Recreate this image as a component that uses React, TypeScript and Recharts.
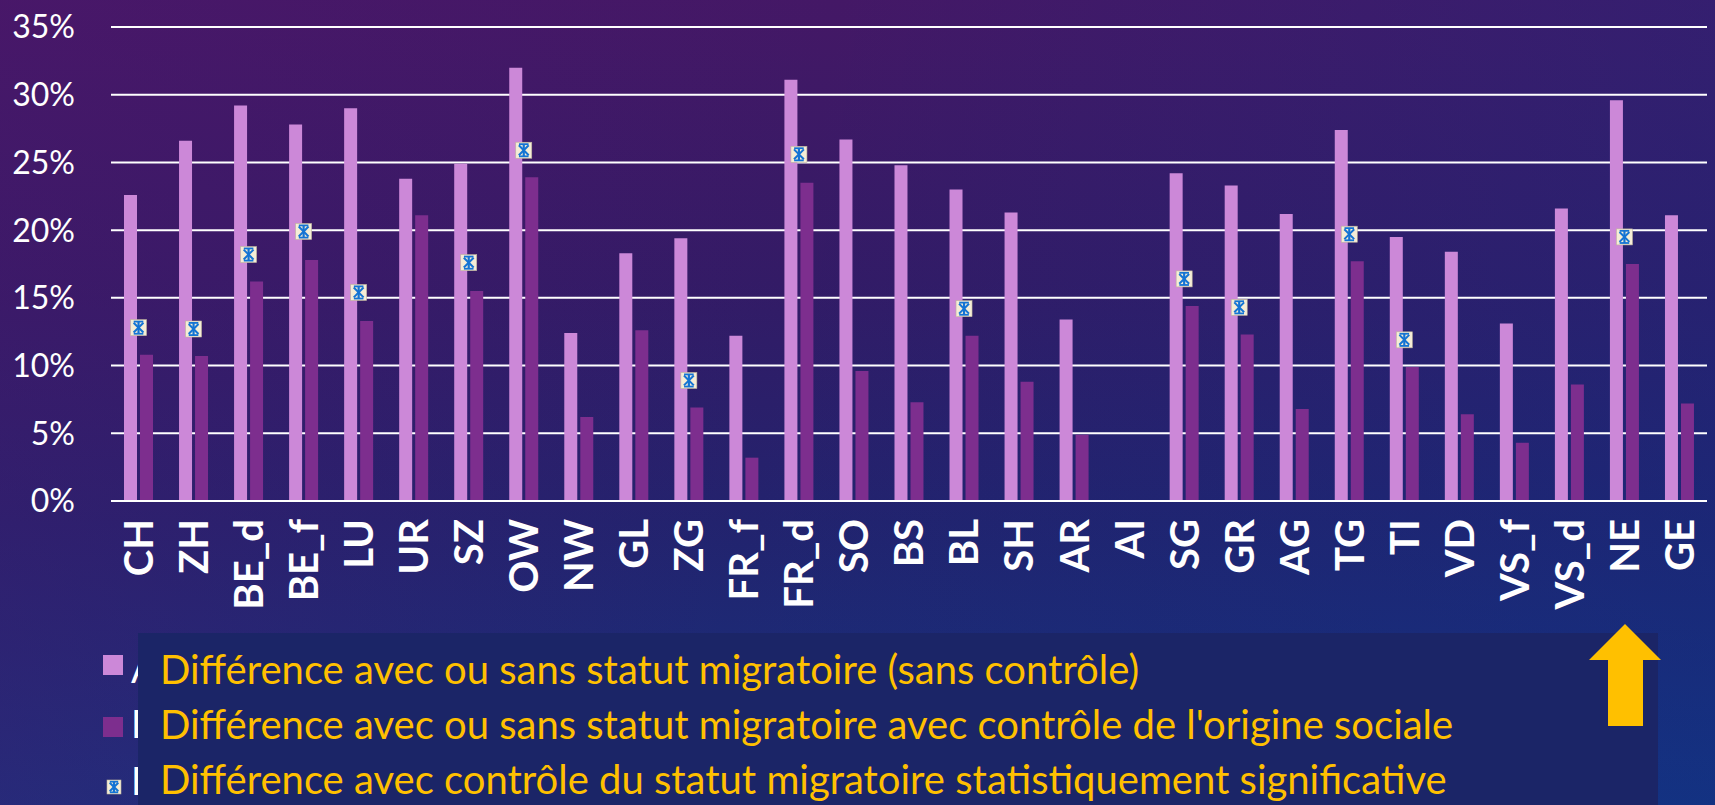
import React from 'react';
import { ComposedChart, Bar, Scatter, XAxis, YAxis, CartesianGrid } from 'recharts';

const cantons = ['CH', 'ZH', 'BE_d', 'BE_f', 'LU', 'UR', 'SZ', 'OW', 'NW', 'GL', 'ZG', 'FR_f', 'FR_d', 'SO', 'BS', 'BL', 'SH', 'AR', 'AI', 'SG', 'GR', 'AG', 'TG', 'TI', 'VD', 'VS_f', 'VS_d', 'NE', 'GE'];
const sansControle = [22.6, 26.6, 29.2, 27.8, 29.0, 23.8, 24.9, 32.0, 12.4, 18.3, 19.4, 12.2, 31.1, 26.7, 24.8, 23.0, 21.3, 13.4, null, 24.2, 23.3, 21.2, 27.4, 19.5, 18.4, 13.1, 21.6, 29.6, 21.1];
const avecControle = [10.8, 10.7, 16.2, 17.8, 13.3, 21.1, 15.5, 23.9, 6.2, 12.6, 6.9, 3.2, 23.5, 9.6, 7.3, 12.2, 8.8, 4.9, null, 14.4, 12.3, 6.8, 17.7, 9.9, 6.4, 4.3, 8.6, 17.5, 7.2];
// points only where the difference is significant
const significatif = [12.8, 12.7, 18.2, 19.9, 15.4, null, 17.6, 25.9, null, null, 8.9, null, 25.6, null, null, 14.2, null, null, null, 16.4, 14.3, null, 19.7, 11.9, null, null, null, 19.5, null];
const yTicks = [0, 5, 10, 15, 20, 25, 30, 35];
const legendLabels = [
  'Différence avec ou sans statut migratoire (sans contrôle)',
  "Différence avec ou sans statut migratoire avec contrôle de l'origine sociale",
  'Différence avec contrôle du statut migratoire statistiquement significative',
];

const data = cantons.map((c, i) => ({
  canton: c,
  sans: sansControle[i],
  avec: avecControle[i],
  sig: significatif[i],
}));

const LIGHT = '#cc88d8';
const DARK = '#7d2e8e';
const GOLD = '#ffc000';
const FONT = 'Lato, "Open Sans", sans-serif';

const StarMarker = ({ cx, cy, size = 16 }: { cx: number; cy: number; size?: number }) => {
  const h = size / 2;
  const b = '#1474d4';
  const p = size * 0.12;
  return (
    <g>
      <rect x={cx - h} y={cy - h} width={size} height={size} fill="#f5edd6" stroke="#bdb49c" strokeWidth={0.6} />
      <line x1={cx} y1={cy - h + p} x2={cx} y2={cy + h - p} stroke={b} strokeWidth={2.2} />
      <line x1={cx - h + p * 1.6} y1={cy - h + p * 1.6} x2={cx + h - p * 1.6} y2={cy + h - p * 1.6} stroke={b} strokeWidth={2} />
      <line x1={cx + h - p * 1.6} y1={cy - h + p * 1.6} x2={cx - h + p * 1.6} y2={cy + h - p * 1.6} stroke={b} strokeWidth={2} />
      <line x1={cx - h * 0.6} y1={cy - h + p} x2={cx + h * 0.6} y2={cy - h + p} stroke={b} strokeWidth={1.8} />
      <line x1={cx - h * 0.6} y1={cy + h - p} x2={cx + h * 0.6} y2={cy + h - p} stroke={b} strokeWidth={1.8} />
    </g>
  );
};

const SigShape = (props: any) => {
  if (props.payload == null || props.payload.sig == null) return <g />;
  return <StarMarker cx={props.cx} cy={props.cy} />;
};

const CantonTick = ({ x, y, payload }: any) => (
  <text
    transform={`translate(${x},${y}) rotate(-90)`}
    textAnchor="end"
    dy="0.36em"
    fill="#ffffff"
    fontSize={40}
    fontWeight={700}
    fontFamily={FONT}
  >
    {payload.value}
  </text>
);

export default function App() {
  return (
    <div
      style={{
        position: 'absolute',
        left: 0,
        top: 0,
        width: 1715,
        height: 805,
        overflow: 'hidden',
        background:
          'linear-gradient(100deg, rgba(80,22,110,0.35) 0%, rgba(0,0,0,0) 45%, rgba(10,50,140,0.3) 100%), linear-gradient(180deg, #441866 0%, #331b66 35%, #22236e 65%, #17327e 100%)',
      }}
    >
      <ComposedChart
        width={1715}
        height={805}
        data={data}
        margin={{ top: 27, right: 8, bottom: 204, left: 0 }}
        barSize={13}
        barGap={3}
      >
        <CartesianGrid vertical={false} stroke="#ffffff" strokeWidth={2} />
        <XAxis
          dataKey="canton"
          interval={0}
          height={100}
          axisLine={{ stroke: '#ffffff', strokeWidth: 2 }}
          tickLine={false}
          tickSize={0}
          tickMargin={18}
          tick={<CantonTick />}
        />
        <YAxis
          width={111}
          domain={[0, 35]}
          ticks={yTicks}
          allowDataOverflow
          axisLine={false}
          tickLine={false}
          tickSize={0}
          tickMargin={36}
          tickFormatter={(v: number) => `${v}%`}
          tick={{ fill: '#ffffff', fontSize: 32, fontFamily: FONT }}
        />
        <Bar dataKey="sans" fill={LIGHT} isAnimationActive={false} />
        <Bar dataKey="avec" fill={DARK} isAnimationActive={false} />
        <Scatter dataKey="sig" shape={SigShape} isAnimationActive={false} />
      </ComposedChart>

      <svg width={1715} height={805} style={{ position: 'absolute', left: 0, top: 0, pointerEvents: 'none' }}>
        {/* original legend keys, mostly hidden behind the box */}
        <rect x={103} y={655} width={20} height={20} fill={LIGHT} />
        <rect x={103} y={717} width={20} height={20} fill={DARK} />
        <StarMarker cx={114} cy={787} size={14} />
        <text x={131} y={683} fill="#ffffff" fontSize={38} fontFamily={FONT}>A</text>
        <text x={131} y={738} fill="#ffffff" fontSize={38} fontFamily={FONT}>D</text>
        <text x={131} y={795} fill="#ffffff" fontSize={38} fontFamily={FONT}>D</text>

        <rect x={138} y={633} width={1520} height={172} fill="#1b2567" />
        {legendLabels.map((t, i) => (
          <text key={t} x={160} y={684 + i * 55} fill={GOLD} fontSize={40} fontFamily={FONT}>
            {t}
          </text>
        ))}

        <polygon
          points="1625,624 1661,660 1643,660 1643,726 1608,726 1608,660 1589,660"
          fill={GOLD}
        />
      </svg>
    </div>
  );
}
